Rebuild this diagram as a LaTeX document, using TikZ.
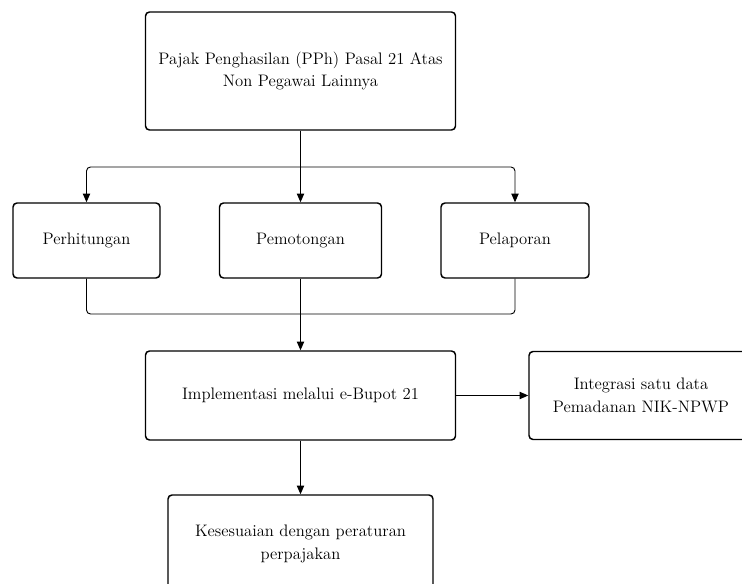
\documentclass[tikz,border=0pt]{standalone}
\usepackage{tikz}
\usetikzlibrary{arrows.meta,calc}
\tikzset{
  box/.style={
    draw,
    rounded corners=3pt,
    line width=1.1pt,
    inner sep=0pt,
    align=center,
    font=\fontsize{12.5}{17}\selectfont
  },
  link/.style={
    line width=0.7pt,
    rounded corners=3pt
  },
  linkarrow/.style={
    link,
    -{Triangle[length=6.5pt,width=5.5pt]}
  }
}

\begin{document}
\begin{tikzpicture}[x=0.75pt,y=-0.75pt]
  \useasboundingbox (0,0) rectangle (742,584);
  % boxes
  \node[box, minimum width=232.5pt, minimum height=88.5pt] (pph) at (300.5,71)
    {Pajak Penghasilan (PPh) Pasal 21 Atas\\Non Pegawai Lainnya};
  \node[box, minimum width=110.25pt, minimum height=56.25pt] (hitung) at (86.5,240.5) {Perhitungan};
  \node[box, minimum width=121.5pt, minimum height=56.25pt] (potong) at (300.5,240.5) {Pemotongan};
  \node[box, minimum width=111pt, minimum height=56.25pt] (lapor) at (515,240.5) {Pelaporan};
  \node[box, minimum width=232.5pt, minimum height=66.75pt] (ebupot) at (300.5,395.5)
    {Implementasi melalui e-Bupot 21};
  \node[box, minimum width=168pt, minimum height=66pt] (nik) at (641,395.5)
    {Integrasi satu data\\Pemadanan NIK-NPWP};
  \node[box, minimum width=198.75pt, minimum height=73.5pt] (sesuai) at (300.5,544)
    {Kesesuaian dengan peraturan\\perpajakan};
  % split and join
  \coordinate (split) at (300.5,167);
  \coordinate (join) at (300.5,314);
  \draw[link] (pph.south) -- (split);
  \draw[linkarrow] (split) -| (hitung.north);
  \draw[linkarrow] (split) -| (lapor.north);
  \draw[linkarrow] (split) -- (potong.north);
  \draw[link] (hitung.south) |- (join);
  \draw[link] (lapor.south) |- (join);
  \draw[link] (potong.south) -- (join);
  \draw[linkarrow] (join) -- (ebupot.north);
  \draw[linkarrow] (ebupot.east) -- (nik.west);
  \draw[linkarrow] (ebupot.south) -- (sesuai.north);
\end{tikzpicture}
\end{document}
